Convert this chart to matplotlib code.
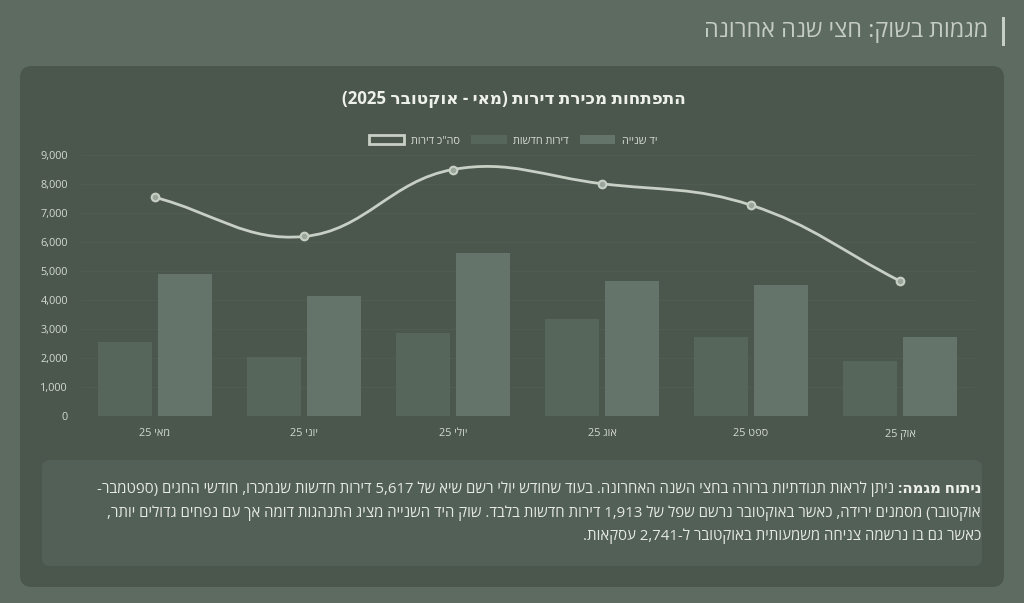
import re
import numpy as np
import matplotlib
matplotlib.use("Agg")
import matplotlib.pyplot as plt
from matplotlib.patches import FancyBboxPatch, Patch, Rectangle
from matplotlib.path import Path
from matplotlib.patches import PathPatch
from matplotlib.ticker import FuncFormatter

plt.rcParams['font.family'] = ['Open Sans', 'DejaVu Sans']

# Data
months = ["מאי 25", "יוני 25", "יולי 25", "אוג 25", "ספט 25", "אוק 25"]
new_flats = [2560, 2050, 2860, 3350, 2720, 1913]
second_hand = [4890, 4140, 5617, 4660, 4510, 2741]
total_flats = [7540, 6190, 8500, 8010, 7270, 4654]

page_title = "מגמות בשוק: חצי שנה אחרונה"
chart_title = "התפתחות מכירת דירות (מאי - אוקטובר 2025)"
legend_labels = ['סה"כ דירות', "דירות חדשות", "יד שנייה"]
note_bold = "ניתוח מגמה:"
note_lines = [
    "ניתן לראות תנודתיות ברורה בחצי השנה האחרונה. בעוד שחודש יולי רשם שיא של 5,617 דירות חדשות שנמכרו, חודשי החגים (ספטמבר-",
    "אוקטובר) מסמנים ירידה, כאשר באוקטובר נרשם שפל של 1,913 דירות חדשות בלבד. שוק היד השנייה מציג התנהגות דומה אך עם נפחים גדולים יותר,",
    "כאשר גם בו נרשמה צניחה משמעותית באוקטובר ל-2,741 עסקאות.",
]

# Colours
bg = '#5e6b61'
panel = '#4b574d'
box = '#526057'
c_new = '#56665a'
c_used = '#64746a'
c_line = '#c8cfc4'
c_text = '#d3d9cf'


def rtl(s):
    # simple visual reordering for Hebrew (matplotlib has no bidi)
    r = s[::-1]
    r = re.sub(r'[0-9][0-9,.]*[0-9]|[0-9]', lambda m: m.group(0)[::-1], r)
    return r.translate(str.maketrans('()', ')('))


W, H = 1024, 603
fig = plt.figure(figsize=(W / 100, H / 100), dpi=100)
fig.patch.set_facecolor(bg)


def fx(x):
    return x / W


def fy(y):
    return 1 - y / H


def rbox(x0, y0, x1, y1, color, r):
    p = FancyBboxPatch((x0 / 100, (H - y1) / 100), (x1 - x0) / 100, (y1 - y0) / 100,
                       boxstyle=f"round,pad=0,rounding_size={r / 100}",
                       transform=fig.dpi_scale_trans, facecolor=color,
                       edgecolor='none', zorder=0)
    fig.add_artist(p)


rbox(20, 66, 1004, 587, panel, 12)
rbox(42, 460, 982, 566, box, 8)

# header
fig.add_artist(Rectangle((fx(1002), fy(46)), 3 / W, 29 / H, transform=fig.transFigure,
                         facecolor=c_line, edgecolor='none'))
fig.text(fx(988), fy(31), rtl(page_title), ha='right', va='center',
         fontsize=16.8, color='#c5ccc2')

fig.text(fx(514), fy(99), rtl(chart_title), ha='center', va='center',
         fontsize=12.2, fontweight='bold', color='#eef0ea')

# chart
ax = fig.add_axes([fx(80.5), fy(416), fx(974.5) - fx(80.5), fy(155) - fy(416)])
ax.set_facecolor('none')
x = np.arange(len(months))
bw = 0.362
ax.bar(x - 0.2, new_flats, bw, color=c_new, zorder=2)
ax.bar(x + 0.2, second_hand, bw, color=c_used, zorder=2)
ax.set_xlim(-0.5, len(months) - 0.5)
ax.set_ylim(0, 9000)
ax.set_yticks(range(0, 9001, 1000))
ax.yaxis.set_major_formatter(FuncFormatter(lambda v, p: f"{int(v):,}"))
ax.set_xticks(x)
ax.set_xticklabels([rtl(m) for m in months])
ax.tick_params(length=0, colors=c_text, labelsize=7.8)
ax.tick_params(axis='y', pad=9)
ax.tick_params(axis='x', pad=9)
for s in ax.spines.values():
    s.set_visible(False)
ax.grid(axis='y', color='#505c52', linewidth=0.8, zorder=1)

# smooth line (Chart.js style spline, tension 0.4) computed in pixel space
pts = ax.transData.transform(np.column_stack([x, total_flats]))
t = 0.4
verts = [pts[0]]
codes = [Path.MOVETO]
n = len(pts)
cps = []
for i in range(n):
    prev = pts[max(i - 1, 0)]
    cur = pts[i]
    nxt = pts[min(i + 1, n - 1)]
    d01 = np.hypot(*(cur - prev))
    d12 = np.hypot(*(nxt - cur))
    s01 = d01 / (d01 + d12) if d01 + d12 else 0
    s12 = d12 / (d01 + d12) if d01 + d12 else 0
    cps.append((cur - t * s01 * (nxt - prev), cur + t * s12 * (nxt - prev)))
for i in range(n - 1):
    verts += [cps[i][1], cps[i + 1][0], pts[i + 1]]
    codes += [Path.CURVE4] * 3
verts = ax.transData.inverted().transform(np.array(verts))
ax.add_patch(PathPatch(Path(verts, codes), facecolor='none', edgecolor=c_line,
                       linewidth=2, zorder=3))
ax.plot(x, total_flats, 'o', ms=5.5, mfc='#9aa69c', mec=c_line, mew=1.5, zorder=4)

handles = [Patch(facecolor=panel, edgecolor=c_line, linewidth=2),
           Patch(facecolor=c_new), Patch(facecolor=c_used)]
ax.legend(handles, [rtl(l) for l in legend_labels], loc='center',
          bbox_to_anchor=(fx(513), fy(141)), bbox_transform=fig.transFigure,
          ncol=3, frameon=False, fontsize=7.8, handlelength=3.3, handleheight=0.9,
          columnspacing=1.0, handletextpad=0.6, labelcolor='#d8ddd4')

# analysis note
right = 982 - 1
ys = [489, 513, 536]
fs = 10.85
renderer = fig.canvas.get_renderer()
tb = fig.text(fx(right), fy(ys[0]), rtl(note_bold), ha='right', va='center',
              fontsize=fs, fontweight='bold', color='#eef0ea')
bw_px = tb.get_window_extent(renderer).width
fig.text(fx(right - bw_px - 3), fy(ys[0]), rtl(note_lines[0]), ha='right', va='center',
         fontsize=fs, color='#e6e9e3')
for yy, line in zip(ys[1:], note_lines[1:]):
    fig.text(fx(right), fy(yy), rtl(line), ha='right', va='center',
             fontsize=fs, color='#e6e9e3')

fig.savefig('out.png', dpi=100, facecolor=bg)
